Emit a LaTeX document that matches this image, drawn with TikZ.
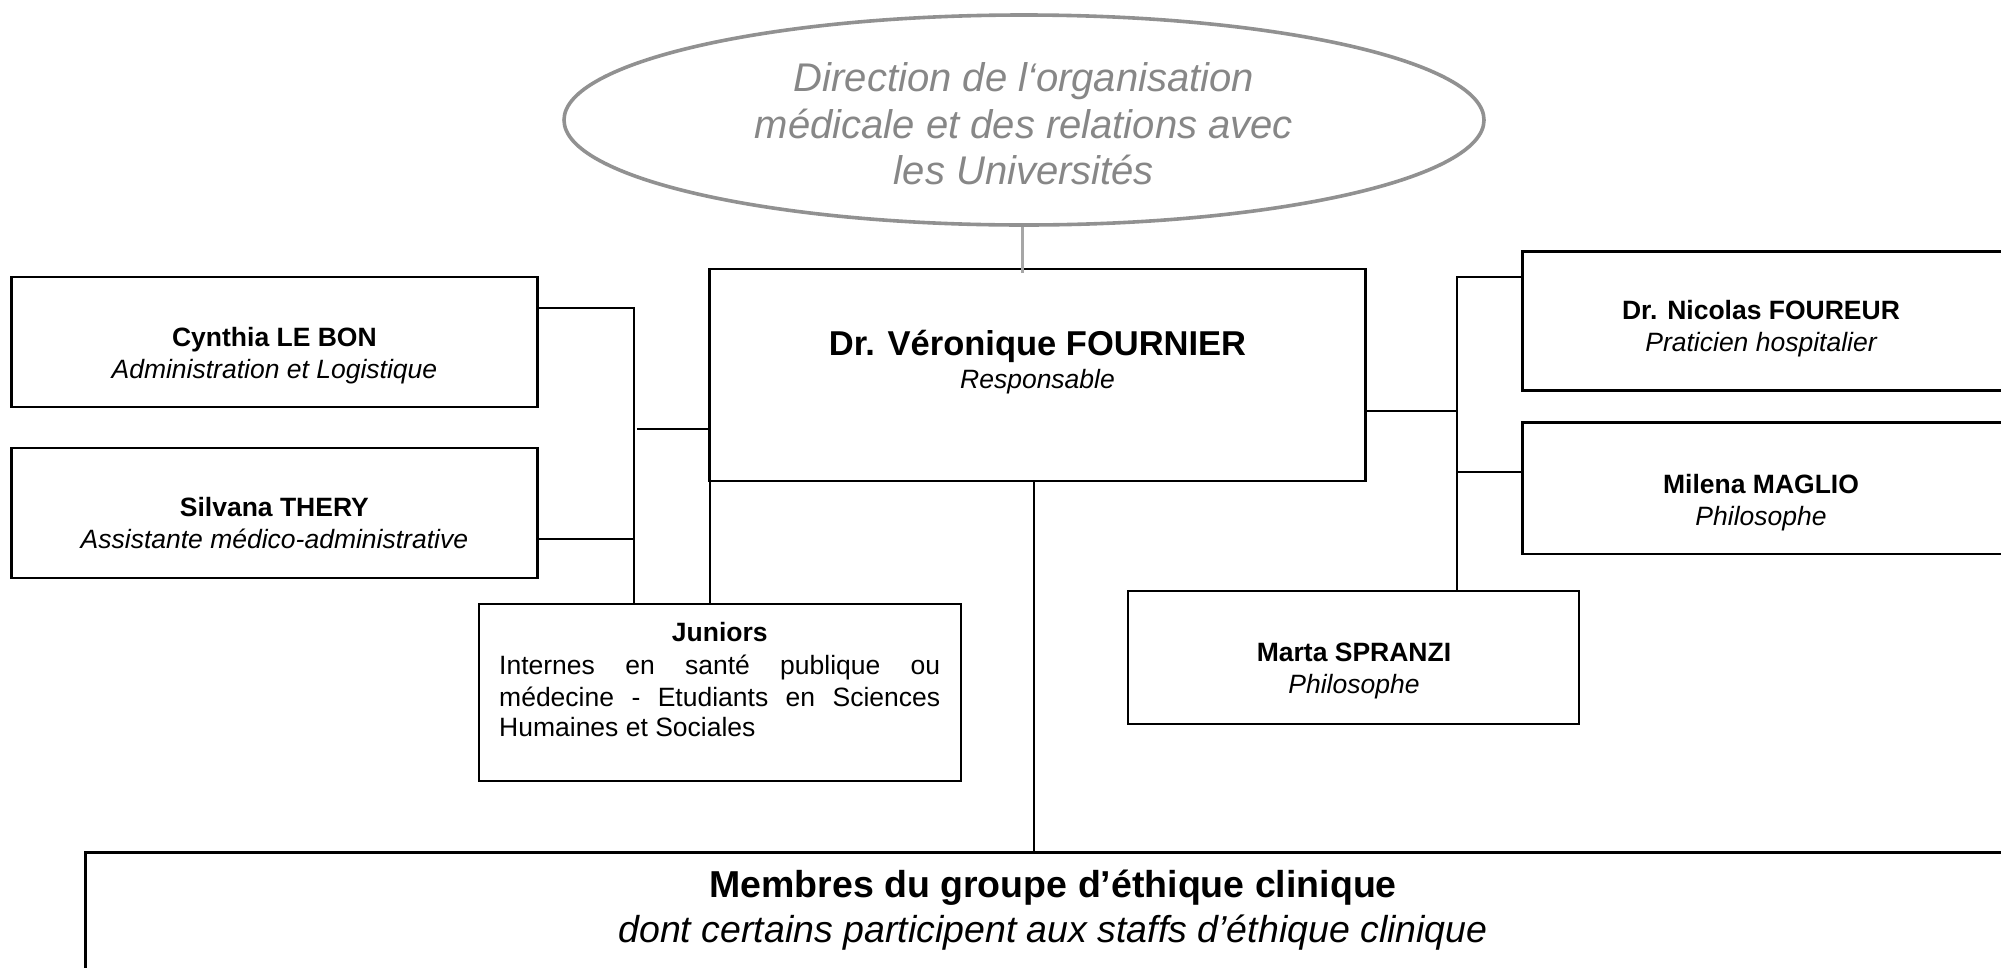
\documentclass[tikz,border=0pt]{standalone}
\usepackage{fontspec}
\setmainfont{Liberation Sans}
\usetikzlibrary{shapes.geometric}
\definecolor{dirline}{RGB}{145,145,145}
\definecolor{dirlink}{RGB}{166,166,166}
\definecolor{dirtext}{RGB}{135,135,135}
\begin{document}
\begin{tikzpicture}[x=1pt,y=-1pt,
  boxed/.style={draw=black,line width=2.2pt,rectangle,inner sep=0pt,outer sep=0pt},
  link/.style={draw=black,line width=2pt},
  namefont/.style={font=\bfseries\fontsize{26.5}{32}\selectfont,anchor=base,inner sep=0pt},
  rolefont/.style={font=\itshape\fontsize{26.5}{32}\selectfont,anchor=base,inner sep=0pt},
  plainfont/.style={font=\fontsize{26.5}{32}\selectfont,anchor=base west,inner sep=0pt},
  dirfont/.style={font=\itshape\fontsize{40}{46.6}\selectfont,text=dirtext,anchor=base,inner sep=0pt}]
\clip (0,0) rectangle (2001,967);
\fill[white] (0,0) rectangle (2001,967);

% ellipse
\node[ellipse,draw=dirline,line width=3.6pt,minimum width=920pt,minimum height=210pt,inner sep=0pt] (dir) at (1024,120) {};
\node[dirfont] (dir1) at (1024,91) {Direction de l‘organisation};
\node[dirfont] (dir2) at (1024,138) {médicale et des relations avec};
\node[dirfont] (dir3) at (1024,184) {les Universités};

% boxes
\node[boxed,minimum width=656pt,minimum height=212pt] (main) at (1037.5,375.2) {};
\node[boxed,minimum width=526pt,minimum height=130pt] (cyn) at (274.4,342) {};
\node[boxed,minimum width=526pt,minimum height=130pt] (sil) at (274.4,513) {};
\node[boxed,minimum width=482.4pt,minimum height=177.4pt] (jun) at (719.8,692.3) {};
\node[boxed,minimum width=481pt,minimum height=139pt] (fou) at (1763,321) {};
\node[boxed,minimum width=481pt,minimum height=131.5pt] (mag) at (1763,488.2) {};
\node[boxed,minimum width=450.6pt,minimum height=132.6pt] (spr) at (1353.3,657.3) {};
\node[boxed,minimum width=1934.5pt,minimum height=147.5pt] (grp) at (1052.8,926.3) {};

% texts
\node[font=\bfseries\fontsize{34.5}{40}\selectfont,anchor=base,inner sep=0pt] (mainN) at (1037.5,355) {Dr. Véronique FOURNIER};
\node[rolefont] (mainR) at (1037.5,388) {Responsable};
\node[namefont] (cynN) at (274.4,346) {Cynthia LE BON};
\node[rolefont] (cynR) at (274.4,378) {Administration et Logistique};
\node[namefont] (silN) at (274.4,516) {Silvana THERY};
\node[rolefont] (silR) at (274.4,548) {Assistante médico-administrative};
\node[namefont] (junN) at (719.8,641) {Juniors};
\node[plainfont] (jun1) at (499,674) {\makebox[441pt][s]{Internes en santé publique ou}};
\node[plainfont] (jun2) at (499,706) {\makebox[441pt][s]{médecine - Etudiants en Sciences}};
\node[plainfont] (jun3) at (499,736) {Humaines et Sociales};
\node[namefont] (fouN) at (1761,319) {Dr. Nicolas FOUREUR};
\node[rolefont] (fouR) at (1761,351) {Praticien hospitalier};
\node[namefont] (magN) at (1761,493) {Milena MAGLIO};
\node[rolefont] (magR) at (1761,525) {Philosophe};
\node[namefont] (sprN) at (1354,661) {Marta SPRANZI};
\node[rolefont] (sprR) at (1354,693) {Philosophe};
\node[font=\bfseries\fontsize{37.5}{44}\selectfont,anchor=base,inner sep=0pt] (grpN) at (1053,897) {Membres du groupe d’éthique clinique};
\node[font=\itshape\fontsize{37.5}{44}\selectfont,anchor=base,inner sep=0pt] (grpR) at (1053,942) {dont certains participent aux staffs d’éthique clinique};

% connectors
\coordinate (dlink) at (1022.7,0);
\draw[draw=dirlink,line width=3.3pt] (dlink |- dir.south) -- ([yshift=-4pt]dlink |- main.north);

\coordinate (lbTop) at (634,307.6);
\coordinate (lbSil) at (634,538.6);
\coordinate (lbMain) at (637,428.8);
\draw[link] (cyn.east |- lbTop) -- (lbTop) -- (lbTop |- jun.north);
\draw[link] (sil.east |- lbSil) -- (lbSil);
\draw[link] (lbMain) -- (lbMain -| main.west);
\draw[link] (main.south west) -- (main.south west |- jun.north);

\coordinate (rbTop) at (1457.4,277);
\coordinate (rbMain) at (1457.4,411);
\coordinate (rbMag) at (1457.4,472);
\draw[link] (fou.west |- rbTop) -- (rbTop) -- (rbTop |- spr.north);
\draw[link] (main.east |- rbMain) -- (rbMain);
\draw[link] (rbMag) -- (mag.west |- rbMag);

\coordinate (grpTop) at (1033.7,852.5);
\draw[link] (grpTop |- main.south) -- (grpTop |- grp.north);
\end{tikzpicture}
\end{document}
